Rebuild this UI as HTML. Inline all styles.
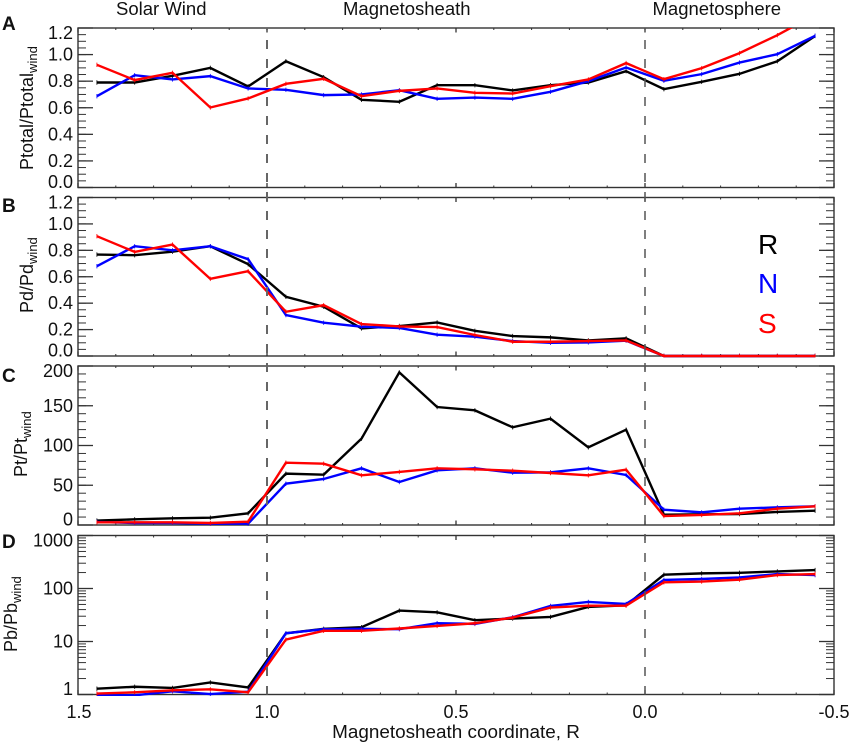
<!DOCTYPE html>
<html lang="en">
<head>
<meta charset="utf-8">
<title>Magnetosheath pressure ratios</title>
<style>
html,body{margin:0;padding:0;background:#fff;width:851px;height:744px;overflow:hidden}
svg{display:block;font-family:"Liberation Sans",Arial,sans-serif}
</style>
</head>
<body>
<svg id="chart" xmlns="http://www.w3.org/2000/svg" width="851" height="744" viewBox="0 0 851 744">
  <rect width="851" height="744" fill="#fff"/>
  <text x="116" y="15" font-size="18.5" fill="#111">Solar Wind</text>
  <text x="343" y="15" font-size="18.5" fill="#111">Magnetosheath</text>
  <text x="652.5" y="15" font-size="18.5" fill="#111">Magnetosphere</text>

  <text x="2" y="30" font-size="19" font-weight="bold" fill="#111">A</text>
  <text x="2" y="212" font-size="19" font-weight="bold" fill="#111">B</text>
  <text x="2" y="382" font-size="19" font-weight="bold" fill="#111">C</text>
  <text x="2" y="548" font-size="19" font-weight="bold" fill="#111">D</text>

  <text transform="translate(33,170) rotate(-90)" font-size="18" fill="#111">Ptotal/Ptotal<tspan font-size="13" dy="4">wind</tspan></text>
  <text transform="translate(33,313) rotate(-90)" font-size="18" fill="#111">Pd/Pd<tspan font-size="13" dy="4">wind</tspan></text>
  <text transform="translate(27,477) rotate(-90)" font-size="18" fill="#111">Pt/Pt<tspan font-size="13" dy="4">wind</tspan></text>
  <text transform="translate(17,652) rotate(-90)" font-size="18" fill="#111">Pb/Pb<tspan font-size="13" dy="4">wind</tspan></text>

  <text x="456" y="738" font-size="18.9" text-anchor="middle" fill="#111">Magnetosheath coordinate, R</text>

  <text x="758" y="254" font-size="28" fill="#000">R</text>
  <text x="758" y="293" font-size="28" fill="#0000ff">N</text>
  <text x="758" y="333" font-size="28" fill="#ff0000">S</text>
</svg>
<script>
var categories = [1.45,1.35,1.25,1.15,1.05,0.95,0.85,0.75,0.65,0.55,0.45,0.35,0.25,0.15,0.05,-0.05,-0.15,-0.25,-0.35,-0.45];
var xTickLabels = ["1.5","1.0","0.5","0.0","-0.5"];
var boundaries = [1.0,0.0];

var ptotalR = [0.79,0.79,0.84,0.90,0.76,0.95,0.83,0.66,0.645,0.77,0.77,0.73,0.77,0.79,0.875,0.74,0.795,0.855,0.95,1.14];
var ptotalN = [0.687,0.845,0.813,0.838,0.745,0.735,0.695,0.70,0.732,0.667,0.677,0.667,0.72,0.80,0.903,0.803,0.853,0.94,1.003,1.141];
var ptotalS = [0.923,0.808,0.863,0.602,0.67,0.78,0.818,0.687,0.727,0.745,0.712,0.707,0.762,0.813,0.936,0.815,0.898,1.011,1.146,1.30];
var ptotalTicks = ["1.2","1.0","0.8","0.6","0.4","0.2","0.0"];

var pdR = [0.768,0.763,0.79,0.831,0.695,0.448,0.373,0.209,0.227,0.254,0.191,0.151,0.141,0.118,0.134,0,0,0,0,0];
var pdN = [0.68,0.831,0.80,0.831,0.733,0.31,0.252,0.222,0.212,0.161,0.146,0.113,0.10,0.103,0.116,0,0,0,0,0];
var pdS = [0.907,0.788,0.844,0.584,0.642,0.335,0.385,0.242,0.224,0.219,0.159,0.108,0.108,0.113,0.118,0,0,0,0,0];
var pdTicks = ["1.2","1.0","0.8","0.6","0.4","0.2","0.0"];

var ptR = [5.5,7.1,8.4,9.2,14.7,64.6,63.3,108.6,192,148.4,144.2,122.9,133.8,97.7,119.9,13,13.4,13.8,16.4,18];
var ptN = [3.8,2.5,2.5,1.7,1.7,52,57.9,71.3,54.1,68.8,71.3,65.8,66.2,71.3,62.9,19.3,15.9,20.5,22.2,23.5];
var ptS = [3.4,3.4,3.4,2.5,4.2,78.4,77.1,62.5,66.7,71.3,70,68.3,65.4,62.5,69.6,11.3,12.6,14.7,20.5,23.5];
var ptTicks = ["200","150","100","50","0"];

var pbR = [1.29,1.40,1.33,1.69,1.36,14.3,17.3,18.6,38.3,35.6,25.2,27.1,29.1,44.9,48.2,182,193,198,210,223];
var pbN = [0.965,0.965,1.15,1.02,1.13,14.3,17.1,17.3,17.1,22.1,21.5,28.7,46.9,55.7,51.1,145,151,162,187,179];
var pbS = [1.04,1.10,1.20,1.25,1.10,10.9,15.9,15.9,17.6,19.7,22.1,28.3,43.6,47.5,47.5,131,135,147,179,187];
var pbTicks = ["1000","100","10","1"];

var svg = document.getElementById('chart');
var NS = 'http://www.w3.org/2000/svg';
var plotLeft = 78, plotRight = 834;
var axisColor = '#333';
var seriesColors = {r:'#000000', n:'#0000ff', s:'#ff0000'};

function xScale(v){ return plotLeft + (1.5 - v) * (plotRight - plotLeft) / 2; }

function linearScale(min, max, top, bottom){
  return function(v){ return bottom - (v - min) / (max - min) * (bottom - top); };
}
function logScale(min, max, top, bottom){
  return function(v){ return bottom - (Math.log10(v) - Math.log10(min)) / (Math.log10(max) - Math.log10(min)) * (bottom - top); };
}
function mk(tag, attrs, parent){
  var el = document.createElementNS(NS, tag);
  for (var k in attrs) el.setAttribute(k, attrs[k]);
  (parent || svg).appendChild(el);
  return el;
}
function tick(g, x1, y1, x2, y2, w){
  var el = mk('line', {x1:x1, y1:y1, x2:x2, y2:y2, stroke:axisColor, 'stroke-width':w}, g);
  
  
}
function yTick(g, y, len, w){
  tick(g, plotLeft, y, plotLeft + len, y, w);
  tick(g, plotRight, y, plotRight - len, y, w);
}
function drawPanel(p){
  var g = mk('g', {});
  
  

  var frame = mk('rect', {x:plotLeft, y:p.top, width:plotRight - plotLeft, height:p.bottom - p.top, fill:'none', stroke:axisColor, 'stroke-width':1.4}, g);
  
  

  // x ticks on top and bottom edges
  for (var i = 0; i <= 20; i++){
    var tv = 1.5 - i * 0.1;
    var major = i % 5 === 0;
    var len = major ? 4.5 : 2;
    var xp = xScale(tv);
    tick(g, xp, p.bottom, xp, p.bottom - len, major ? 1.3 : 1);
    tick(g, xp, p.top, xp, p.top + len, major ? 1.3 : 1);
  }

  // y ticks and labels
  p.minorTicks.forEach(function(v){ yTick(g, p.y(v), 8, 1); });
  p.labels.forEach(function(label){
    var yp = p.y(parseFloat(label));
    yTick(g, yp, 15, 1.3);
    var base = Math.min(p.bottom + 0.5, Math.max(p.top + 11, yp + 6));
    var t = mk('text', {x:73, y:base, 'font-size':18, 'text-anchor':'end', fill:'#111'}, g);
    
    
    t.textContent = label;
  });

  // series
  var clipId = 'clip-' + p.id;
  var clip = mk('clipPath', {id:clipId}, g);
  mk('rect', {x:plotLeft, y:p.top, width:plotRight - plotLeft, height:p.bottom - p.top + 1.5}, clip);
  var sg = mk('g', {'clip-path':'url(#' + clipId + ')'}, g);
  p.series.forEach(function(s){
    var pts = s.values.map(function(v, i){ return xScale(categories[i]).toFixed(2) + ',' + p.y(v).toFixed(2); });
    var line = mk('polyline', {points:pts.join(' '), fill:'none', stroke:seriesColors[s.key], 'stroke-width':2.4, 'stroke-linejoin':'miter'}, sg);
    
    
    s.values.forEach(function(v, i){
      var cx = xScale(categories[i]), cy = p.y(v);
      var e = mk('line', {x1:cx, y1:cy - 2.2, x2:cx, y2:cy + 2.2, stroke:seriesColors[s.key], 'stroke-width':0.8}, sg);
      
      
    });
  });
}
function steps(min, max, step){
  var out = [];
  var n = Math.round((max - min) / step);
  for (var i = 0; i <= n; i++) out.push(min + i * step);
  return out;
}
function logMinor(){
  var out = [];
  [1,10,100].forEach(function(d){
    for (var m = 2; m <= 9; m++) out.push(d * m);
  });
  return out;
}

var panels = [
  {id:'a', top:28, bottom:187.5, y:linearScale(0,1.2,28,187.5), labels:ptotalTicks, minorTicks:steps(0,1.2,0.05),
   series:[{key:'r',values:ptotalR},{key:'n',values:ptotalN},{key:'s',values:ptotalS}]},
  {id:'b', top:197.5, bottom:356, y:linearScale(0,1.2,197.5,356), labels:pdTicks, minorTicks:steps(0,1.2,0.05),
   series:[{key:'r',values:pdR},{key:'n',values:pdN},{key:'s',values:pdS}]},
  {id:'c', top:366, bottom:525, y:linearScale(0,200,366,525), labels:ptTicks, minorTicks:steps(0,200,10),
   series:[{key:'r',values:ptR},{key:'n',values:ptN},{key:'s',values:ptS}]},
  {id:'d', top:535.5, bottom:694.5, y:logScale(1,1000,535.5,694.5), labels:pbTicks, minorTicks:logMinor(),
   series:[{key:'r',values:pbR},{key:'n',values:pbN},{key:'s',values:pbS}]}
];
panels.forEach(drawPanel);

// region boundaries
boundaries.forEach(function(b, i){
  var line = mk('line', {x1:xScale(b), y1:28, x2:xScale(b), y2:694.5, stroke:i === 0 ? '#666' : '#555', 'stroke-width':i === 0 ? 2 : 1.5, 'stroke-dasharray':'9 10', 'stroke-dashoffset':7});
  
  
});

// x tick labels
xTickLabels.forEach(function(label){
  var t = mk('text', {x:xScale(parseFloat(label)) + (label === '1.5' ? 1 : 0), y:718, 'font-size':18, 'text-anchor':'middle', fill:'#111'});
  
  
  t.textContent = label;
});
</script>
</body>
</html>
